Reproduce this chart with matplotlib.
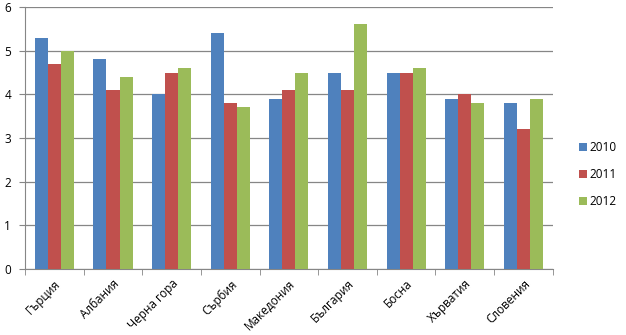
import matplotlib
matplotlib.use("Agg")
import matplotlib.pyplot as plt
import numpy as np

countries = ["Гърция", "Албания", "Черна гора", "Сърбия", "Македония",
             "България", "Босна", "Хърватия", "Словения"]
years = ["2010", "2011", "2012"]
v2010 = [5.3, 4.8, 4.0, 5.4, 3.9, 4.5, 4.5, 3.9, 3.8]
v2011 = [4.7, 4.1, 4.5, 3.8, 4.1, 4.1, 4.5, 4.0, 3.2]
v2012 = [5.0, 4.4, 4.6, 3.7, 4.5, 5.6, 4.6, 3.8, 3.9]
colors = ["#4F81BD", "#C0504D", "#9BBB59"]

plt.rcParams["font.family"] = ["Open Sans", "DejaVu Sans"]

fig = plt.figure(figsize=(6.26, 3.35), dpi=100)
ax = fig.add_axes([0.040, 0.197, 0.843, 0.782])

x = np.arange(len(countries))
width = 0.222
for i, (vals, year) in enumerate(zip([v2010, v2011, v2012], years)):
    ax.bar(x + (i - 1) * width, vals, width=width, color=colors[i], label=year, zorder=3)

ax.set_xlim(-0.5, len(countries) - 0.5)
ax.set_ylim(0, 6)
ax.set_yticks(range(0, 7))
ax.tick_params(axis="y", labelsize=8.5, length=4, color="#868686", pad=6)
ax.grid(axis="y", color="#868686", linewidth=0.9, zorder=0)

# category labels sit under the centres, ticks go between the groups
ax.set_xticks(x)
ax.set_xticklabels(countries, rotation=45, ha="right", rotation_mode="anchor", fontsize=8.5)
ax.tick_params(axis="x", length=0, pad=6)
ax.set_xticks(np.arange(-0.5, len(countries), 1), minor=True)
ax.tick_params(axis="x", which="minor", length=4, color="#868686")

for side in ["top", "right"]:
    ax.spines[side].set_visible(False)
for side in ["left", "bottom"]:
    ax.spines[side].set_color("#868686")

ax.legend(loc="center left", bbox_to_anchor=(1.03, 0.36), frameon=False,
          fontsize=8.5, handlelength=0.7, handleheight=0.7, handletextpad=0.2,
          labelspacing=1.2)

fig.savefig("out.png", dpi=100)
